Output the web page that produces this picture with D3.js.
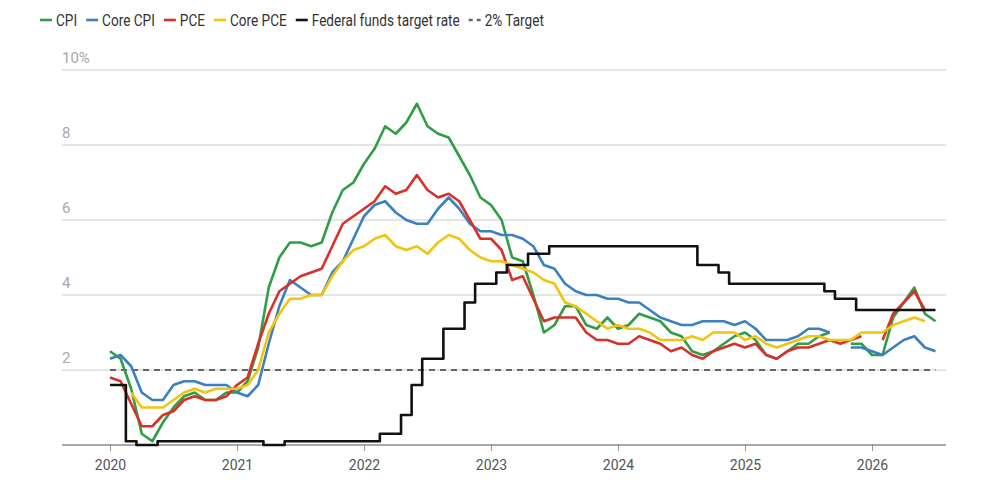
<!DOCTYPE html>
<html lang="en">
<head>
<meta charset="UTF-8">
<script src="https://d3js.org/d3.v7.min.js"></script>
<style>
  body { margin: 0; background: #fff; }
  svg { font-family: "Liberation Sans Narrow", "Roboto", sans-serif; }
  .grid { stroke: #ccc; stroke-width: 1px; }
  .series { fill: none; stroke-width: 2.6px; stroke-linejoin: round; }
</style>
</head>
<body>
<script>
// monthly, Jan 2020 .. Jul 2026
const startYear = 2020;
const cpi = [
  2.5, 2.3, 1.5, 0.3, 0.1, 0.6, 1.0, 1.3, 1.4, 1.2, 1.2, 1.4,
  1.4, 1.7, 2.6, 4.2, 5.0, 5.4, 5.4, 5.3, 5.4, 6.2, 6.8, 7.0,
  7.5, 7.9, 8.5, 8.3, 8.6, 9.1, 8.5, 8.3, 8.2, 7.7, 7.2, 6.6,
  6.4, 6.0, 5.0, 4.9, 4.0, 3.0, 3.2, 3.7, 3.7, 3.2, 3.1, 3.4,
  3.1, 3.2, 3.5, 3.4, 3.3, 3.0, 2.9, 2.5, 2.4, 2.5, 2.7, 2.9,
  3.0, 2.8, 2.4, 2.3, 2.5, 2.7, 2.7, 2.9, 3.0, null, 2.7, 2.7,
  2.4, 2.4, 3.4, 3.8, 4.2, 3.5, 3.3
];
const coreCpi = [
  2.3, 2.4, 2.1, 1.4, 1.2, 1.2, 1.6, 1.7, 1.7, 1.6, 1.6, 1.6,
  1.4, 1.3, 1.6, 2.7, 3.7, 4.4, 4.2, 4.0, 4.0, 4.6, 4.9, 5.5,
  6.1, 6.4, 6.5, 6.2, 6.0, 5.9, 5.9, 6.3, 6.6, 6.3, 5.9, 5.7,
  5.7, 5.6, 5.6, 5.5, 5.3, 4.8, 4.7, 4.3, 4.1, 4.0, 4.0, 3.9,
  3.9, 3.8, 3.8, 3.6, 3.4, 3.3, 3.2, 3.2, 3.3, 3.3, 3.3, 3.2,
  3.3, 3.1, 2.8, 2.8, 2.8, 2.9, 3.1, 3.1, 3.0, null, 2.6, 2.6,
  2.5, 2.4, 2.6, 2.8, 2.9, 2.6, 2.5
];
const pce = [
  1.8, 1.7, 1.1, 0.5, 0.5, 0.8, 0.9, 1.2, 1.3, 1.2, 1.2, 1.3,
  1.6, 1.8, 2.7, 3.5, 4.1, 4.3, 4.5, 4.6, 4.7, 5.3, 5.9, 6.1,
  6.3, 6.5, 6.9, 6.7, 6.8, 7.2, 6.8, 6.6, 6.7, 6.5, 6.0, 5.5,
  5.5, 5.2, 4.4, 4.5, 3.9, 3.3, 3.4, 3.4, 3.4, 3.0, 2.8, 2.8,
  2.7, 2.7, 2.9, 2.8, 2.7, 2.5, 2.6, 2.4, 2.3, 2.5, 2.6, 2.7,
  2.6, 2.7, 2.4, 2.3, 2.5, 2.6, 2.6, 2.7, 2.8, 2.7, 2.8, 2.9,
  null, 2.8, 3.5, 3.8, 4.1, 3.6, null
];
const corePce = [
  null, null, 1.4, 1.0, 1.0, 1.0, 1.2, 1.4, 1.5, 1.4, 1.5, 1.5,
  1.5, 1.6, 2.0, 3.0, 3.5, 3.9, 3.9, 4.0, 4.0, 4.5, 4.9, 5.2,
  5.3, 5.5, 5.6, 5.3, 5.2, 5.3, 5.1, 5.4, 5.6, 5.5, 5.2, 5.0,
  4.9, 4.9, 4.8, 4.7, 4.6, 4.4, 4.3, 3.8, 3.7, 3.5, 3.3, 3.1,
  3.2, 3.1, 3.1, 3.0, 2.8, 2.8, 2.8, 2.9, 2.8, 3.0, 3.0, 3.0,
  2.8, 2.9, 2.7, 2.6, 2.7, 2.8, 2.9, 2.9, 2.8, 2.8, 2.8, 3.0,
  3.0, 3.0, 3.2, 3.3, 3.4, 3.3, null
];
const fedRate = [
  1.6, 1.6, 0.1, 0.0, 0.0, 0.1, 0.1, 0.1, 0.1, 0.1, 0.1, 0.1,
  0.1, 0.1, 0.1, 0.0, 0.0, 0.1, 0.1, 0.1, 0.1, 0.1, 0.1, 0.1,
  0.1, 0.1, 0.3, 0.3, 0.8, 1.6, 2.3, 2.3, 3.1, 3.1, 3.8, 4.3,
  4.3, 4.6, 4.8, 4.8, 5.1, 5.1, 5.3, 5.3, 5.3, 5.3, 5.3, 5.3,
  5.3, 5.3, 5.3, 5.3, 5.3, 5.3, 5.3, 5.3, 4.8, 4.8, 4.6, 4.3,
  4.3, 4.3, 4.3, 4.3, 4.3, 4.3, 4.3, 4.3, 4.1, 3.9, 3.9, 3.6,
  3.6, 3.6, 3.6, 3.6, 3.6, 3.6, 3.6
];
const target = 2;
const yTicks = [2, 4, 6, 8, 10];
const xTicks = [2020, 2021, 2022, 2023, 2024, 2025, 2026];

const seriesList = [
  { name: "CPI", values: cpi, color: "#2f9e47" },
  { name: "Core CPI", values: coreCpi, color: "#3b80c0" },
  { name: "PCE", values: pce, color: "#d8312a" },
  { name: "Core PCE", values: corePce, color: "#f2c30f" }
];

const W = 1004, H = 494;
const svg = d3.select("body").append("svg").attr("width", W).attr("height", H);

// month index -> fractional year
const t = i => startYear + i / 12;
const x = d3.scaleLinear().domain([2020, 2026]).range([110, 872]);
const y = d3.scaleLinear().domain([0, 10]).range([445, 70]);

// gridlines + y labels
yTicks.forEach(v => {
  svg.append("line").attr("class", "grid")
    .attr("x1", 62).attr("x2", 946).attr("y1", y(v)).attr("y2", y(v));
  svg.append("text").attr("x", 62).attr("y", y(v) - 7)
    .attr("fill", "#a8a8a8").attr("font-size", 15)
    .text(v === 10 ? "10%" : v);
});

// baseline + x axis
const xAxis = d3.axisBottom(x).tickValues(xTicks).tickFormat(d3.format("d")).tickSize(6).tickPadding(9);
const ax = svg.append("g").attr("transform", `translate(0,${y(0)})`).call(xAxis);
ax.select(".domain").remove();
ax.selectAll(".tick line").attr("stroke", "#999");
ax.selectAll(".tick text").attr("fill", "#555").attr("font-size", 14)
  .attr("font-family", "Liberation Sans Narrow, Roboto, sans-serif");
svg.append("line").attr("x1", 62).attr("x2", 946).attr("y1", y(0)).attr("y2", y(0))
  .attr("stroke", "#555").attr("stroke-width", 1.2);

// 2% target
svg.append("line")
  .attr("x1", x(t(0))).attr("x2", x(t(cpi.length - 1)))
  .attr("y1", y(target)).attr("y2", y(target))
  .attr("stroke", "#666").attr("stroke-width", 2).attr("stroke-dasharray", "6,5");

// inflation lines
const line = d3.line()
  .defined(d => d != null)
  .x((d, i) => x(t(i)))
  .y(d => y(d));

seriesList.forEach(s => {
  svg.append("path").attr("class", "series")
    .attr("stroke", s.color).attr("d", line(s.values));
});

// fed funds step line
const stepLine = d3.line().curve(d3.curveStep)
  .x((d, i) => x(t(i))).y(d => y(d));
svg.append("path").attr("class", "series")
  .attr("stroke", "#111").attr("stroke-width", 2.8)
  .attr("d", stepLine(fedRate));

// legend (text squeezed horizontally to mimic a condensed face)
const squeeze = 0.8;
const legendItems = seriesList.map(s => ({ name: s.name, color: s.color, dash: null }))
  .concat([{ name: "Federal funds target rate", color: "#111", dash: null },
           { name: "2% Target", color: "#666", dash: "4,4" }]);
let lx = 40;
legendItems.forEach(it => {
  const g = svg.append("g").attr("transform", `translate(${lx},20)`);
  g.append("line").attr("x1", 0).attr("x2", 12).attr("y1", 0).attr("y2", 0)
    .attr("stroke", it.color).attr("stroke-width", 2.6)
    .attr("stroke-dasharray", it.dash);
  const tx = g.append("text").attr("transform", `translate(16,6) scale(${squeeze},1)`)
    .attr("fill", "#333").attr("font-size", 17).text(it.name);
  lx += 16 + tx.node().getComputedTextLength() * squeeze + 9;
});
</script>
</body>
</html>
